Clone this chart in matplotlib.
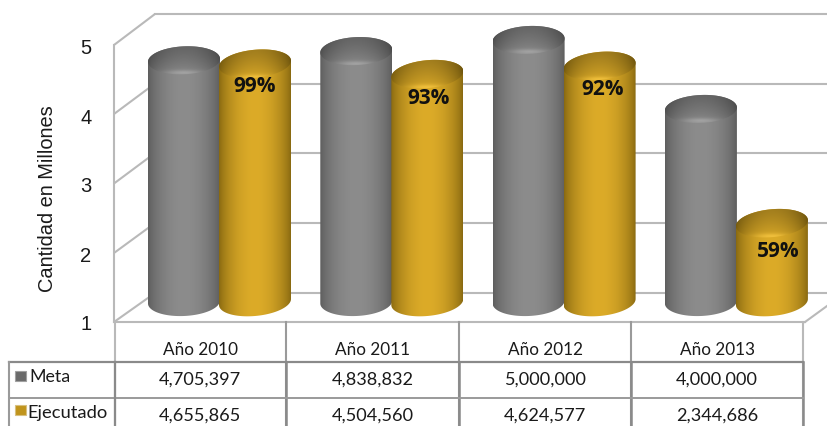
import numpy as np
import matplotlib
matplotlib.use("Agg")
import matplotlib.pyplot as plt
from matplotlib.path import Path
from matplotlib.patches import PathPatch, Rectangle

categories = ["Año 2010", "Año 2011", "Año 2012", "Año 2013"]
meta = [4705397, 4838832, 5000000, 4000000]
ejecutado = [4655865, 4504560, 4624577, 2344686]
percent_labels = ["99%", "93%", "92%", "59%"]
y_ticks = [1, 2, 3, 4, 5]
series_names = ["Meta", "Ejecutado"]
y_label = "Cantidad en Millones"

W, H = 827, 426
TXT = "#1a1a1a"
LINE = "#b9b9b9"
TBL = "#9a9a9a"

fig = plt.figure(figsize=(W / 100, H / 100), dpi=100, facecolor="white")

# chrome axes in pixel space
bg = fig.add_axes([0, 0, 1, 1], zorder=0)
bg.set_xlim(0, W)
bg.set_ylim(H, 0)
bg.axis("off")

# data axes: x = category index, y = value in millions
CAT_PX, CAT_X0 = 172.3, 219.5
PX_PER_UNIT, Y5_PX = 69.0, 40.0
ax = fig.add_axes([0, 0, 1, 1], zorder=1)
ax.patch.set_alpha(0)
ax.axis("off")

# walls and gridlines
back_y = [293, 223, 153, 83.5, 14]
front_y = [322, 253, 183.5, 114, 45]
for b, f in zip(back_y, front_y):
    bg.plot([114, 155], [f, b], color=LINE, lw=1.5, solid_capstyle="round")
    bg.plot([155, W], [b, b], color=LINE, lw=1.5)
bg.plot([114, 114], [45, 322], color=LINE, lw=1.5)
bg.plot([114, 805], [322, 322], color=LINE, lw=1.5)
bg.plot([805, W], [322, 306], color=LINE, lw=1.5)

# table
vx = [114.5, 286, 459, 631, 803]
for i, x in enumerate(vx):
    bg.plot([x, x], [322, 426], color=TBL if 0 < i < 4 else LINE, lw=1.5)
    if i:
        bg.plot([x, x], [362, 426], color="#8a8a8a", lw=1.8)
bg.plot([9, 803], [362, 362], color="#8a8a8a", lw=1.6)
bg.plot([9, 803], [398, 398], color=TBL, lw=1.4)
bg.plot([9, 9], [362, 426], color=TBL, lw=1.5)
bg.plot([114.5, 114.5], [362, 426], color="#8a8a8a", lw=1.6)

for i, c in enumerate(categories):
    cx = (vx[i] + vx[i + 1]) / 2
    bg.text(cx, 350, c, ha="center", va="center", fontsize=12.3, family="Lato", color=TXT)
    bg.text(cx, 380, f"{meta[i]:,}", ha="center", va="center", fontsize=13.1, family="Lato", color=TXT)
    bg.text(cx, 415.5, f"{ejecutado[i]:,}", ha="center", va="center", fontsize=13.1, family="Lato", color=TXT)

bg.add_patch(Rectangle((15, 371), 11, 10, fc="#6a6a6a", ec="#a0a0a0", lw=0.8))
bg.add_patch(Rectangle((15, 405), 11, 10, fc="#c0941c", ec="#d8c080", lw=0.8))
bg.text(29, 377, series_names[0], ha="left", va="center", fontsize=12.8, family="Lato", color=TXT)
bg.text(27.5, 413, series_names[1], ha="left", va="center", fontsize=13.2, family="Lato", color=TXT)

for v, y in zip(y_ticks, [325, 256, 186, 118, 49]):
    bg.text(86, y, str(v), ha="center", va="center", fontsize=14.5, family="Liberation Sans", color=TXT)
bg.text(48, 199, y_label, rotation=90, ha="center", va="center", fontsize=14.4, family="Liberation Sans", color=TXT)


def hex_rgb(h):
    return np.array(matplotlib.colors.to_rgb(h))


def cylinder(xc, value, edge, mid, rim, tilt_px, base_px=302, z=3):
    """Draw one shaded cylinder whose top centre sits at `value`."""
    half = 36.0 / CAT_PX
    semi = 14.0 / PX_PER_UNIT
    tilt = tilt_px / 2 / PX_PER_UNIT
    base = 5 - (base_px - Y5_PX) / PX_PER_UNIT
    th = np.linspace(0, 2 * np.pi, 120)

    def ring(yc, angles):
        return (xc + half * np.cos(angles),
                yc + semi * np.sin(angles) + tilt * np.cos(angles))

    bx, by = ring(base, np.linspace(np.pi, 2 * np.pi, 60))
    tx, ty = ring(value, np.linspace(0, np.pi, 60))
    body = np.column_stack([np.r_[bx, tx], np.r_[by, ty]])
    body = np.vstack([body, body[0]])
    xs = np.linspace(0, 1, 200)
    s = np.sin(np.pi * xs) ** 0.7
    col = hex_rgb(edge) + (hex_rgb(mid) - hex_rgb(edge)) * s[..., None]
    ext = [xc - half, xc + half, base - semi * 1.3, value + semi * 1.3]
    im = ax.imshow(col[None, :, :], extent=ext, aspect="auto", zorder=z, interpolation="bilinear")
    im.set_clip_path(PathPatch(Path(body), transform=ax.transData))

    cx_, cy_ = ring(value, th)
    cap_path = np.column_stack([cx_, cy_])
    v = np.linspace(0, 1, 60)[:, None]  # 0 = back, 1 = front
    g = col[None, :, :] * (0.72 + 0.28 * v[..., None] ** 1.3)
    glow = np.exp(-((v - 0.9) / 0.08) ** 2)[..., None] * np.exp(-((xs - 0.5) / 0.22) ** 2)[None, :, None]
    g = g + (hex_rgb(rim) - g) * glow
    ext2 = [xc - half, xc + half, value - semi - tilt, value + semi + tilt]
    im2 = ax.imshow(np.clip(g, 0, 1), extent=ext2, aspect="auto", zorder=z + 0.1,
                    origin="upper", interpolation="bilinear")
    im2.set_clip_path(PathPatch(Path(cap_path), transform=ax.transData))


offset = 35.5 / CAT_PX
label_dx_px = [0, 1, 3, 6]
label_dy_px = [23, 24, 24, 28]
for i in range(len(categories)):
    cylinder(i - offset, meta[i] / 1e6, "#5c5c5c", "#8c8c8c", "#a2a2a2", 3, z=3 + i)
    cylinder(i + offset, ejecutado[i] / 1e6, "#866710", "#dcab28", "#efbf3c", 6, z=3.3 + i)
    ax.text(i + offset + label_dx_px[i] / CAT_PX,
            ejecutado[i] / 1e6 - label_dy_px[i] / PX_PER_UNIT,
            percent_labels[i], ha="center", va="center", fontsize=15, fontweight="bold",
            family="Open Sans", color="#111111", zorder=20)

ax.set_xlim(-CAT_X0 / CAT_PX, (W - CAT_X0) / CAT_PX)
ax.set_ylim(5 - (H - Y5_PX) / PX_PER_UNIT, 5 + Y5_PX / PX_PER_UNIT)
fig.savefig("out.png", dpi=100, facecolor="white")
